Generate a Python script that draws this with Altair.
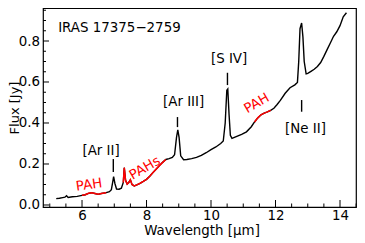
import altair as alt
import pandas as pd

# ---- spectrum ----
wavelength = [5.20, 5.30, 5.40, 5.47, 5.52, 5.57, 5.70, 5.85, 6.00, 6.10, 6.20, 6.30, 6.40, 6.50,
              6.60, 6.75, 6.85, 6.91, 6.95, 6.98, 7.02, 7.07, 7.15, 7.22, 7.28, 7.31, 7.35, 7.40,
              7.45, 7.50, 7.55, 7.62, 7.70, 7.80, 7.90, 8.00, 8.10, 8.20, 8.30, 8.40, 8.50, 8.60,
              8.70, 8.80, 8.87, 8.93, 8.97, 9.01, 9.06, 9.15, 9.25, 9.40, 9.55, 9.70, 9.85, 10.00,
              10.15, 10.30, 10.38, 10.44, 10.49, 10.52, 10.56, 10.60, 10.65, 10.80, 10.95, 11.10,
              11.25, 11.35, 11.45, 11.55, 11.65, 11.75, 11.85, 11.95, 12.05, 12.15, 12.30, 12.45,
              12.60, 12.68, 12.72, 12.76, 12.81, 12.85, 12.89, 12.95, 13.00, 13.10, 13.20, 13.30,
              13.40, 13.50, 13.60, 13.70, 13.80, 13.90, 14.00, 14.10, 14.20]
flux = [0.031, 0.033, 0.036, 0.038, 0.045, 0.037, 0.040, 0.042, 0.047, 0.050, 0.057, 0.060, 0.056, 0.052,
        0.056, 0.060, 0.065, 0.075, 0.110, 0.138, 0.105, 0.078, 0.077, 0.082, 0.110, 0.182, 0.120, 0.102,
        0.110, 0.123, 0.100, 0.093, 0.098, 0.106, 0.115, 0.125, 0.140, 0.158, 0.175, 0.192, 0.208, 0.222,
        0.226, 0.232, 0.245, 0.330, 0.366, 0.330, 0.240, 0.221, 0.222, 0.226, 0.232, 0.242, 0.255, 0.270,
        0.283, 0.300, 0.312, 0.400, 0.560, 0.566, 0.440, 0.340, 0.325, 0.335, 0.345, 0.357,
        0.382, 0.405, 0.425, 0.440, 0.448, 0.454, 0.462, 0.472, 0.490, 0.510, 0.545, 0.572,
        0.586, 0.598, 0.700, 0.860, 0.888, 0.820, 0.700, 0.640, 0.642, 0.652, 0.662, 0.676,
        0.695, 0.725, 0.758, 0.790, 0.823, 0.845, 0.875, 0.918, 0.938]

# PAH ranges drawn in red
pah_lo = [6.00, 7.28, 11.35]
pah_hi = [6.75, 8.60, 11.85]

# ---- annotations ----
line_names = ["[Ar II]", "[Ar III]", "[S IV]", "[Ne II]"]
line_text_x = [6.59, 9.15, 10.56, 12.93]
line_text_y = [0.244, 0.483, 0.691, 0.350]
line_mark_x = [6.97, 8.96, 10.51, 12.81]
line_mark_y1 = [0.161, 0.380, 0.585, 0.455]
line_mark_y2 = [0.224, 0.429, 0.645, 0.512]

pah_labels = ["PAH", "PAHs", "PAH"]
pah_text_x = [6.22, 7.95, 11.42]
pah_text_y = [0.098, 0.180, 0.496]
pah_angle = [352, 330, 330]

source_name = ["IRAS 17375\u22122759"]
source_x = [5.26]
source_y = [0.846]

# ---- axes ----
x_major = [6, 8, 10, 12, 14]
x_minor = [5.0, 5.5, 6.5, 7.0, 7.5, 8.5, 9.0, 9.5, 10.5, 11.0, 11.5, 12.5, 13.0, 13.5, 14.5]
y_major = [0.0, 0.2, 0.4, 0.6, 0.8]
y_minor = [0.05, 0.10, 0.15, 0.25, 0.30, 0.35, 0.45, 0.50, 0.55, 0.65, 0.70, 0.75, 0.85, 0.90, 0.95]

X_DOM = [4.79, 14.496]
Y_DOM = [-0.0098, 0.961]
W, H = 313, 199
FONT = "DejaVu Sans"
FS = 13.4

xs = alt.Scale(domain=X_DOM, nice=False, zero=False)
ys = alt.Scale(domain=Y_DOM, nice=False, zero=False)

x_axis = alt.Axis(values=x_major, format="d", ticks=False, tickSize=0, domain=False, grid=False,
                  labelPadding=1, labelFontSize=FS, labelFont=FONT, labelColor="black",
                  title="Wavelength [\u03bcm]", titleFontSize=FS, titleFont=FONT,
                  titleFontWeight="normal", titleColor="black", titleBaseline="alphabetic",
                  titleX=W / 2 + 2, titleY=27.5, titleAlign="center")
y_axis = alt.Axis(values=y_major, format=".1f", ticks=False, tickSize=0, domain=False, grid=False,
                  labelPadding=3.5, labelFontSize=FS, labelFont=FONT, labelColor="black",
                  title="Flux [Jy]", titleFontSize=13, titleFont=FONT,
                  titleFontWeight="normal", titleColor="black", titleAngle=270,
                  titleBaseline="top", titleAlign="center", titleX=-35, titleY=H / 2)


def X(field):
    return alt.X(field, scale=xs, axis=x_axis)


def Y(field):
    return alt.Y(field, scale=ys, axis=y_axis)


spec = pd.DataFrame({"wl": wavelength, "flux": flux})
red_rows = []
for i, (lo, hi) in enumerate(zip(pah_lo, pah_hi)):
    for w, f in zip(wavelength, flux):
        if lo - 1e-9 <= w <= hi + 1e-9:
            red_rows.append({"wl": w, "flux": f, "seg": i})
red = pd.DataFrame(red_rows)

base_line = alt.Chart(spec).mark_line(color="black", strokeWidth=1.4).encode(
    x=X("wl:Q"), y=Y("flux:Q"), order="wl:Q")

red_line = alt.Chart(red).mark_line(color="#ff0000", strokeWidth=1.5).encode(
    x=X("wl:Q"), y=Y("flux:Q"), detail="seg:N", order="wl:Q")

marks_df = pd.DataFrame({"wl": line_mark_x, "flux": line_mark_y1, "y2": line_mark_y2})
line_marks = alt.Chart(marks_df).mark_rule(color="black", strokeWidth=1.4).encode(
    x=X("wl:Q"), y=Y("flux:Q"), y2="y2:Q")

names_df = pd.DataFrame({"wl": line_text_x, "flux": line_text_y, "t": line_names})
names = alt.Chart(names_df).mark_text(font=FONT, fontSize=FS, color="black", align="center",
                                      baseline="alphabetic").encode(
    x=X("wl:Q"), y=Y("flux:Q"), text="t:N")

pah_df = pd.DataFrame({"wl": pah_text_x, "flux": pah_text_y, "t": pah_labels, "a": pah_angle})
pahs = alt.Chart(pah_df).mark_text(font=FONT, fontSize=FS, color="#ff0000", align="center",
                                   baseline="middle").encode(
    x=X("wl:Q"), y=Y("flux:Q"), text="t:N", angle=alt.Angle("a:Q", scale=None))

src_df = pd.DataFrame({"wl": source_x, "flux": source_y, "t": source_name})
src = alt.Chart(src_df).mark_text(font=FONT, fontSize=FS, color="black", align="left",
                                  baseline="alphabetic").encode(
    x=X("wl:Q"), y=Y("flux:Q"), text="t:N")

# inward ticks
xmaj = alt.Chart(pd.DataFrame({"wl": x_major})).mark_rule(color="black", strokeWidth=1).encode(
    x=X("wl:Q"), y=alt.value(H), y2=alt.value(H - 7))
xmin = alt.Chart(pd.DataFrame({"wl": x_minor})).mark_rule(color="black", strokeWidth=1).encode(
    x=X("wl:Q"), y=alt.value(H), y2=alt.value(H - 3.5))
ymaj = alt.Chart(pd.DataFrame({"flux": y_major})).mark_rule(color="black", strokeWidth=1).encode(
    y=Y("flux:Q"), x=alt.value(0), x2=alt.value(6))
ymin = alt.Chart(pd.DataFrame({"flux": y_minor})).mark_rule(color="black", strokeWidth=1).encode(
    y=Y("flux:Q"), x=alt.value(0), x2=alt.value(3))

chart = alt.layer(base_line, red_line, line_marks, names, pahs, src, xmaj, xmin, ymaj, ymin).properties(
    width=W, height=H,
    autosize=alt.AutoSizeParams(type="none"),
    padding={"left": 35, "top": 0, "right": 1, "bottom": 35},
).configure_view(stroke="black", strokeWidth=1.2)

chart.save("out.html", embed_options={"renderer": "svg", "actions": False})
